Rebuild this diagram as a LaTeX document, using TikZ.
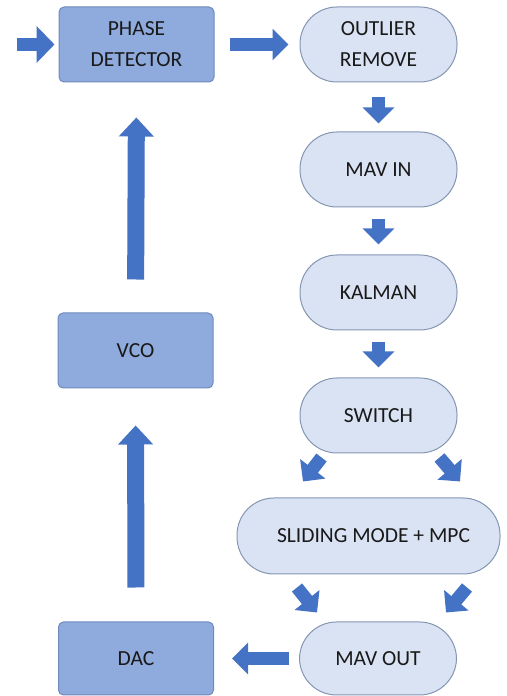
\documentclass[tikz,border=0pt]{standalone}
\usepackage{fontspec}
\setmainfont{Carlito}
\usetikzlibrary{positioning,arrows.meta}

\definecolor{darkfill}{HTML}{8FAADC}
\definecolor{darkline}{HTML}{6F89BD}
\definecolor{lightfill}{HTML}{DAE3F3}
\definecolor{lightline}{HTML}{8496B2}
\definecolor{arrowblue}{HTML}{4472C4}

\tikzstyle{darkbox} = [draw=darkline, fill=darkfill, line width=1pt, rounded corners=5pt,
  minimum width=155pt, minimum height=75pt, align=center, text=black!90]
\tikzstyle{roundbox} = [draw=lightline, fill=lightfill, line width=1pt, rounded corners=37pt,
  minimum width=157pt, minimum height=75pt, align=center, text=black!90]
\tikzstyle{flow} = [draw=arrowblue, line width=13pt, -{Triangle[width=31pt,length=16pt]}]
\tikzstyle{bigflow} = [draw=arrowblue, line width=17pt, -{Triangle[width=34pt,length=19pt]}]

\begin{document}
\begin{tikzpicture}[x=1pt, y=1pt,
  every node/.style={font=\fontsize{21.5}{31}\selectfont}]
\useasboundingbox (0,0) rectangle (506,696);

% right column
\node[darkbox] (phase) at (136.5,651.5) {PHASE\\DETECTOR};
\node[roundbox] (outlier) at (378.5,651.5) {OUTLIER\\REMOVE};
\node[roundbox, below=49pt of outlier] (mavin) {MAV IN};
\node[roundbox, below=47pt of mavin] (kalman) {KALMAN};
\node[roundbox, below=47pt of kalman] (switch) {SWITCH};
\node[roundbox, minimum width=263pt, minimum height=76pt] (sliding) at (368.5,160) {\hspace{10pt}SLIDING MODE + MPC};
\node[roundbox, minimum height=73pt] (mavout) at (378,37.5) {MAV OUT};

% left column
\node[darkbox] (vco) at (135.5,345.5) {VCO};
\node[darkbox, minimum height=73pt] (dac) at (136,37.5) {DAC};

\coordinate (input) at (17,651.5);

% connectors
\draw[flow, -{Triangle[width=36pt,length=18pt]}, shorten >=4pt] (input) -- (phase.west);
\draw[flow, shorten <=15pt, shorten >=11pt] (phase) -- (outlier);
\draw[flow, shorten <=15pt, shorten >=8pt] (outlier) -- (mavin);
\draw[flow, shorten <=12pt, shorten >=10pt] (mavin) -- (kalman);
\draw[flow, shorten <=12pt, shorten >=10pt] (kalman) -- (switch);

\draw[flow] ([shift={(-57pt,-4pt)}]switch.south) -- ([shift={(-65.5pt,16pt)}]sliding.north);
\draw[flow] ([shift={(61pt,-4pt)}]switch.south) -- ([shift={(91.5pt,16pt)}]sliding.north);
\draw[flow] ([shift={(-71.5pt,-13pt)}]sliding.south) -- ([shift={(-61pt,9pt)}]mavout.north);
\draw[flow] ([shift={(98.5pt,-13pt)}]sliding.south) -- ([shift={(68pt,9pt)}]mavout.north);

\draw[flow, shorten <=10pt, shorten >=18pt] (mavout) -- (dac);
\draw[bigflow, shorten <=34pt, shorten >=37pt] (dac) -- (vco);
\draw[bigflow, shorten <=33pt, shorten >=35pt] (vco.north) -- (phase.south);
\end{tikzpicture}
\end{document}
